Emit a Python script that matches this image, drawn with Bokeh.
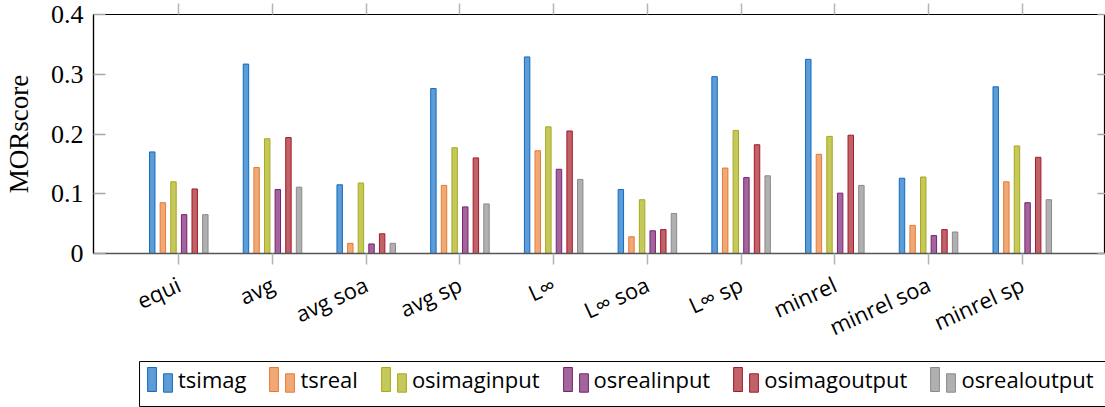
import numpy as np
from bokeh.plotting import figure
from bokeh.layouts import column
from bokeh.models import FixedTicker, LinearAxis, Legend, LegendItem, Range1d, BoxAnnotation
from bokeh.embed import file_html
from bokeh.resources import INLINE

categories = ["equi", "avg", "avg soa", "avg sp", "L∞", "L∞ soa", "L∞ sp",
              "minrel", "minrel soa", "minrel sp"]
series_names = ["tsimag", "tsreal", "osimaginput", "osrealinput",
                "osimagoutput", "osrealoutput"]
tsimag = [0.170, 0.317, 0.115, 0.276, 0.329, 0.107, 0.296, 0.325, 0.126, 0.279]
tsreal = [0.085, 0.144, 0.017, 0.114, 0.172, 0.028, 0.143, 0.166, 0.047, 0.120]
osimaginput = [0.120, 0.192, 0.118, 0.177, 0.212, 0.090, 0.206, 0.196, 0.128, 0.180]
osrealinput = [0.065, 0.107, 0.016, 0.078, 0.141, 0.038, 0.127, 0.101, 0.030, 0.085]
osimagoutput = [0.108, 0.194, 0.033, 0.160, 0.205, 0.040, 0.182, 0.198, 0.040, 0.161]
osrealoutput = [0.065, 0.111, 0.017, 0.083, 0.124, 0.067, 0.130, 0.114, 0.036, 0.090]
y_ticks = [0, 0.1, 0.2, 0.3, 0.4]
y_tick_labels = ["0", "0.1", "0.2", "0.3", "0.4"]

series_values = [tsimag, tsreal, osimaginput, osrealinput, osimagoutput, osrealoutput]
fill_colors = ["#5d9cd6", "#f0a875", "#c5c85a", "#a2669c", "#c16168", "#b0b0b0"]
line_colors = ["#0f6cc0", "#e57a36", "#a6a91a", "#791f70", "#a31a2c", "#8a8a8a"]

p = figure(width=1105, height=359, output_backend="svg", toolbar_location=None,
           x_range=Range1d(-0.91, 9.888), y_range=Range1d(0, 0.4),
           min_border_left=85, min_border_right=0, min_border_top=14,
           min_border_bottom=106)
p.xgrid.visible = False
p.ygrid.visible = False
p.outline_line_color = "black"
p.outline_line_width = 1.2

cat_idx = np.arange(len(categories))
bar_step = 0.1133
for k, vals in enumerate(series_values):
    xs = cat_idx + (k - (len(series_values) - 1) / 2) * bar_step
    p.vbar(x=xs, top=vals, width=0.058, bottom=0,
           fill_color=fill_colors[k], line_color=line_colors[k], line_width=1)

xa = p.xaxis[0]
xa.ticker = FixedTicker(ticks=list(cat_idx))
xa.major_label_overrides = {int(i): c for i, c in zip(cat_idx, categories)}
xa.major_label_orientation = 0.43
xa.major_tick_in = 0
xa.major_tick_out = 11
xa.minor_tick_line_color = None
xa.major_tick_line_color = "#b4b4b4"
xa.major_tick_line_width = 1.5
xa.axis_line_color = "#555555"
xa.axis_line_width = 1.5
xa.major_label_text_font = "Open Sans"
xa.major_label_text_font_size = "22px"
xa.major_label_text_color = "black"
xa.major_label_standoff = 18

ya = p.yaxis[0]
ya.ticker = FixedTicker(ticks=y_ticks)
ya.major_label_overrides = {t: l for t, l in zip(y_ticks, y_tick_labels)}
ya.major_tick_in = 12
ya.major_tick_out = 0
ya.minor_tick_line_color = None
ya.major_tick_line_color = "#a8a8a8"
ya.major_tick_line_width = 1.5
ya.axis_line_color = "black"
ya.axis_line_width = 1.2
ya.major_label_text_font = "Liberation Serif"
ya.major_label_text_font_size = "26px"
ya.major_label_text_color = "black"
ya.major_label_standoff = 10
ya.axis_label = "MORscore"
ya.axis_label_text_font = "Liberation Serif"
ya.axis_label_text_font_style = "normal"
ya.axis_label_text_font_size = "27px"
ya.axis_label_text_color = "black"
ya.axis_label_standoff = 14

top = LinearAxis(ticker=FixedTicker(ticks=list(cat_idx)), major_tick_in=0,
                 major_tick_out=11, major_label_text_font_size="0px",
                 major_label_standoff=0, axis_line_color="black",
                 minor_tick_line_color=None, major_tick_line_color="#b4b4b4",
                 major_tick_line_width=1.5)
p.add_layout(top, "above")
right = LinearAxis(ticker=FixedTicker(ticks=y_ticks), major_tick_in=8,
                   major_tick_out=0, major_label_text_font_size="0px",
                   major_label_standoff=0, axis_line_color="black",
                   minor_tick_line_color=None, major_tick_line_color="#a8a8a8",
                   major_tick_line_width=1.5)
p.add_layout(right, "right")

# legend strip: legend proxies lie entirely below the strip's visible range
lf = figure(width=1105, height=48, output_backend="svg", toolbar_location=None,
            x_range=Range1d(0, 1), y_range=Range1d(0, 1),
            x_axis_location=None, y_axis_location=None,
            min_border_left=0, min_border_right=0, min_border_top=0,
            min_border_bottom=0)
lf.xgrid.visible = False
lf.ygrid.visible = False
lf.outline_line_color = None
leg_renderers = []
for k in range(len(series_names)):
    r = lf.vbar(x=[0.5], bottom=[-3], top=[-2], width=0.01,
                fill_color=fill_colors[k], line_color=line_colors[k], line_width=1)
    leg_renderers.append(r)

lf.add_layout(BoxAnnotation(left=0.0455, right=1.05, top=0.958, bottom=0.021,
                            fill_alpha=0, line_color="black", line_width=1,
                            line_alpha=1))

leg_tall = Legend(items=[LegendItem(label=n, renderers=[r]) for n, r in zip(series_names, leg_renderers)],
                  orientation="horizontal", location=(53, 12), glyph_width=11,
                  glyph_height=30, label_standoff=21, spacing=22, padding=0,
                  border_line_alpha=0, background_fill_alpha=0,
                  label_text_font="Open Sans", label_text_font_size="22px",
                  label_text_color="black", label_height=32, margin=0)
lf.add_layout(leg_tall, "center")
leg_short = Legend(items=[LegendItem(label=n, renderers=[r]) for n, r in zip(series_names, leg_renderers)],
                   orientation="horizontal", location=(69, 9), glyph_width=11,
                   glyph_height=23, label_standoff=5, spacing=38, padding=0,
                   border_line_alpha=0, background_fill_alpha=0, label_text_alpha=0,
                   label_text_font="Open Sans", label_text_font_size="22px",
                   label_height=32, margin=0)
lf.add_layout(leg_short, "center")

layout = column(p, lf, spacing=0)
open("out.html", "w").write(file_html(layout, INLINE))
